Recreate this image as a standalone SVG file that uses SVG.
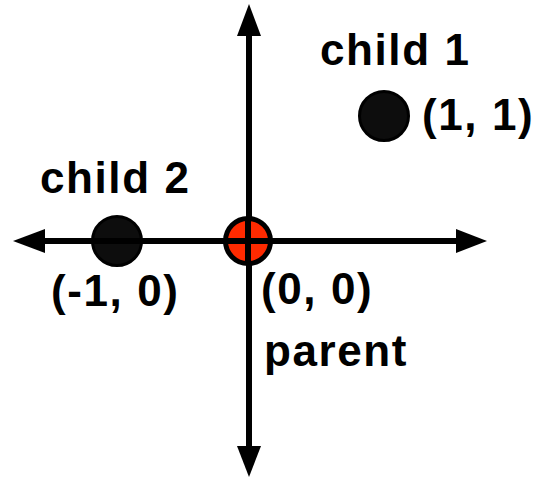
<svg xmlns="http://www.w3.org/2000/svg" width="535" height="478" viewBox="0 0 535 478">
<style>
.axis{stroke:#000;stroke-width:6;fill:none}
.head{fill:#000}
.lbl{font-family:"Liberation Sans",Arial,sans-serif;font-weight:bold;font-size:44px;letter-spacing:1.6px;fill:#000}
.dot{fill:#0d0d0d;stroke:#000;stroke-width:3}
</style>
<rect width="535" height="478" fill="#fff"/>
<g id="connectors">
<line class="axis" x1="249" y1="30" x2="249" y2="452"/>
<line class="axis" x1="40" y1="241" x2="460" y2="241"/>
<polygon class="head" points="249,4 237,36 261,36"/>
<polygon class="head" points="249,477 237,446 261,446"/>
<polygon class="head" points="13,241 45,229 45,253"/>
<polygon class="head" points="487,241 456,229 456,253"/>
</g>
<g id="parent">
<circle cx="248" cy="241" r="22.5" fill="#ff2a00" stroke="#000" stroke-width="5"/>
<line x1="248" y1="218" x2="248" y2="264" stroke="#000" stroke-width="6"/>
<line x1="225" y1="241" x2="271" y2="241" stroke="#000" stroke-width="6"/>
<text class="lbl" x="261" y="304">(0, 0)</text>
<text class="lbl" x="264" y="366">parent</text>
</g>
<g id="child1">
<circle class="dot" cx="384" cy="116" r="24.5"/>
<text class="lbl" x="320" y="65">child 1</text>
<text class="lbl" x="422" y="130">(1, 1)</text>
</g>
<g id="child2">
<circle class="dot" cx="117" cy="241" r="24.5"/>
<line x1="92" y1="241" x2="142" y2="241" stroke="#000" stroke-width="6"/>
<text class="lbl" x="40" y="193">child 2</text>
<text class="lbl" x="51" y="306">(-1, 0)</text>
</g>
</svg>
